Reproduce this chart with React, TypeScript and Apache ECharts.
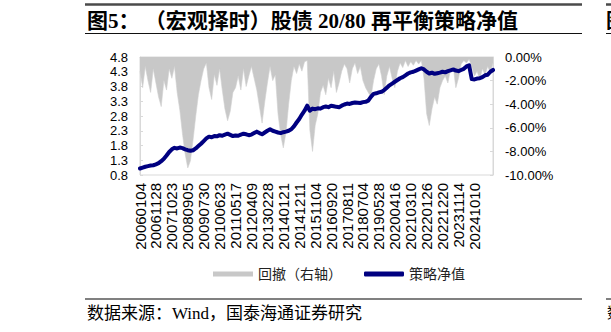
import React, { useEffect, useRef } from "react";
import * as echarts from "echarts";

const TITLE = "图5： （宏观择时）股债 20/80 再平衡策略净值";
const SOURCE = "数据来源：Wind，国泰海通证券研究";
const NAV_NAME = "策略净值";
const DD_NAME = "回撤（右轴）";

// trading dates (every 6th, up to 20241010, is an axis label)
const dates: string[] = [
  "20060104", "20060228", "20060424", "20060619", "20060811", "20061009",
  "20061128", "20070124", "20070320", "20070516", "20070710", "20070829",
  "20071023", "20071214", "20080205", "20080331", "20080522", "20080715",
  "20080905", "20081031", "20081224", "20090220", "20090415", "20090608",
  "20090730", "20090922", "20091116", "20100108", "20100310", "20100430",
  "20100623", "20100816", "20101014", "20101207", "20110128", "20110325",
  "20110517", "20110708", "20110831", "20111027", "20111219", "20120214",
  "20120409", "20120601", "20120725", "20120917", "20121115", "20130108",
  "20130228", "20130423", "20130617", "20130809", "20131008", "20131129",
  "20140121", "20140317", "20140512", "20140703", "20140825", "20141021",
  "20141211", "20150204", "20150331", "20150526", "20150716", "20150910",
  "20151104", "20151229", "20160224", "20160421", "20160615", "20160805",
  "20160920", "20161115", "20170106", "20170306", "20170428", "20170622",
  "20170811", "20170929", "20171124", "20180118", "20180316", "20180515",
  "20180704", "20180827", "20181024", "20181218", "20190219", "20190412",
  "20190528", "20190719", "20190911", "20191108", "20200102", "20200302",
  "20200416", "20200610", "20200803", "20200928", "20201124", "20210118",
  "20210310", "20210430", "20210622", "20210813", "20211011", "20211202",
  "20220126", "20220322", "20220516", "20220707", "20220830", "20221026",
  "20221220", "20230214", "20230411", "20230605", "20230727", "20230920",
  "20231114", "20240108", "20240305", "20240430", "20240624", "20240815",
  "20241010", "20241204", "20250124", "20250320", "20250516", "20250708",
  "20250829", "20251024",
];

// axis tick labels shown in the reference
const tickLabels: string[] = [
  "20060104", "20061128", "20071023", "20080905", "20090730", "20100623",
  "20110517", "20120409", "20130228", "20140121", "20141211", "20151104",
  "20160920", "20170811", "20180704", "20190528", "20200416", "20210310",
  "20220126", "20221220", "20231114", "20241010",
];

// strategy net value (left axis)
const nav: number[] = [
  1.02, 1.05, 1.08, 1.10, 1.12, 1.13,
  1.16, 1.20, 1.27, 1.35, 1.46, 1.58,
  1.67, 1.72, 1.70, 1.73, 1.71, 1.67,
  1.64, 1.62, 1.64, 1.70, 1.78, 1.86,
  1.95, 2.04, 2.10, 2.08, 2.12, 2.11,
  2.15, 2.13, 2.17, 2.20, 2.16, 2.12,
  2.14, 2.13, 2.17, 2.20, 2.18, 2.15,
  2.17, 2.22, 2.27, 2.22, 2.18, 2.24,
  2.30, 2.35, 2.30, 2.27, 2.24, 2.22,
  2.25, 2.27, 2.30, 2.35, 2.45, 2.58,
  2.70, 2.85, 2.98, 3.15, 2.98, 3.05,
  3.03, 3.06, 3.05, 3.10, 3.12, 3.10,
  3.15, 3.13, 3.11, 3.10, 3.15, 3.19,
  3.22, 3.21, 3.24, 3.26, 3.25, 3.24,
  3.27, 3.28, 3.32, 3.45, 3.55, 3.57,
  3.60, 3.62, 3.68, 3.76, 3.84, 3.90,
  3.96, 4.02, 4.08, 4.12, 4.18, 4.24,
  4.28, 4.30, 4.34, 4.38, 4.42, 4.38,
  4.30, 4.24, 4.27, 4.23, 4.25, 4.27,
  4.30, 4.28, 4.32, 4.35, 4.38, 4.34,
  4.32, 4.36, 4.40, 4.48, 4.52, 4.05,
  4.04, 4.07, 4.08, 4.12, 4.18, 4.20,
  4.30, 4.36,
];

// drawdown in % (right axis)
const drawdown: number[] = [
  -1.2, -2.6, -0.8, -2.0, -3.0, -1.0,
  -2.2, -3.4, -4.2, -2.0, -2.8, -1.0,
  -1.8, -0.8, -3.0, -4.5, -6.5, -8.2,
  -9.4, -8.8, -7.0, -5.0, -3.2, -2.0,
  -1.0, -0.5, -2.6, -3.6, -1.5, -2.4,
  -1.0, -2.8, -4.4, -5.4, -4.6, -3.0,
  -2.6, -1.6, -2.8, -1.0, -2.5, -1.6,
  -0.8, -1.8, -2.8, -4.2, -5.6, -3.8,
  -2.2, -0.8, -2.0, -1.5, -4.8, -6.6,
  -7.7, -6.4, -4.0, -2.0, -0.8, -1.4,
  -0.6, -1.2, -0.4, -0.3, -6.2, -8.0,
  -5.8, -4.8, -3.0, -2.4, -3.2, -1.8,
  -2.6, -1.2, -3.0, -2.2, -1.2, -0.6,
  -1.0, -2.2, -1.0, -0.5, -1.4, -0.8,
  -2.0, -2.6, -3.0, -3.4, -2.0, -1.0,
  -0.6, -1.6, -3.2, -1.6, -0.8, -1.8,
  -2.6, -1.2, -0.5, -0.9, -0.3, -0.8,
  -0.4, -0.7, -0.3, -0.6, -0.3, -1.8,
  -4.8, -5.8, -4.4, -3.4, -4.0, -2.6,
  -2.0, -1.6, -2.2, -1.0, -0.8, -2.6,
  -1.8, -0.6, -0.3, -0.5, -0.2, -0.8,
  -1.6, -1.2, -1.9, -1.0, -1.5, -0.8,
  -1.3, -0.5,
];

const SANS = '"Liberation Sans", Arial, "Noto Sans CJK SC", sans-serif';
const SERIF = '"Liberation Serif", "Times New Roman", "Noto Sans CJK SC", serif';

export default function App() {
  const ref = useRef<HTMLDivElement>(null);
  useEffect(() => {
    if (!ref.current) return;
    const chart = echarts.init(ref.current, undefined, { renderer: "svg" });
    chart.setOption({
      animation: false,
      backgroundColor: "#ffffff",
      grid: {
        left: 140,
        right: 118,
        top: 57,
        bottom: 157,
        show: true,
        borderColor: "#d9d9d9",
        borderWidth: 1,
        containLabel: false,
      },
      legend: {
        left: 208,
        top: 262,
        itemWidth: 40,
        itemHeight: 5,
        itemGap: 22,
        textStyle: { fontSize: 14, color: "#222", fontFamily: SERIF },
        data: [
          { name: DD_NAME, icon: "rect" },
          { name: NAV_NAME, icon: "roundRect" },
        ],
      },
      xAxis: {
        type: "category",
        data: dates,
        boundaryGap: false,
        axisLine: { show: true, lineStyle: { color: "#d9d9d9" } },
        axisTick: { show: false },
        axisLabel: {
          interval: (index: number, value: string) => tickLabels.indexOf(value) >= 0,
          rotate: 90,
          margin: 8,
          fontSize: 15,
          color: "#000",
          fontFamily: SANS,
        },
        splitLine: { show: false },
      },
      yAxis: [
        {
          type: "value",
          min: 0.8,
          max: 4.8,
          interval: 0.5,
          position: "left",
          axisLine: { show: true, lineStyle: { color: "#d9d9d9" } },
          axisTick: { show: true, inside: true, length: 3, lineStyle: { color: "#d9d9d9" } },
          splitLine: { show: false },
          axisLabel: {
            margin: 12,
            fontSize: 13,
            color: "#000",
            fontFamily: SANS,
            formatter: (v: number) => v.toFixed(1),
          },
        },
        {
          type: "value",
          min: -10,
          max: 0,
          interval: 2,
          position: "right",
          axisLine: { show: true, lineStyle: { color: "#d9d9d9" } },
          axisTick: { show: true, inside: true, length: 3, lineStyle: { color: "#d9d9d9" } },
          splitLine: { show: false },
          axisLabel: {
            margin: 12,
            fontSize: 13,
            color: "#000",
            fontFamily: SANS,
            formatter: (v: number) => v.toFixed(2) + "%",
          },
        },
      ],
      series: [
        {
          name: DD_NAME,
          type: "line",
          yAxisIndex: 1,
          data: drawdown,
          showSymbol: false,
          color: "#c8c8c8",
          lineStyle: { width: 0.6, color: "#d0d0d0" },
          areaStyle: { color: "#c8c8c8", opacity: 1 },
          z: 1,
        },
        {
          name: NAV_NAME,
          type: "line",
          yAxisIndex: 0,
          data: nav,
          showSymbol: false,
          color: "#000080",
          lineStyle: { width: 4, color: "#000080", cap: "round", join: "round" },
          z: 3,
        },
      ],
      graphic: [
        { type: "line", shape: { x1: 85, y1: 4.5, x2: 582, y2: 4.5 }, style: { stroke: "#4a4a4a", lineWidth: 2.5 } },
        { type: "line", shape: { x1: 606, y1: 4.5, x2: 611, y2: 4.5 }, style: { stroke: "#4a4a4a", lineWidth: 2.5 } },
        {
          type: "text",
          x: 87,
          y: 21,
          style: { text: TITLE, font: "bold 21px " + SERIF, fill: "#000", verticalAlign: "middle" },
        },
        {
          type: "text",
          x: 606,
          y: 21,
          style: { text: "图", font: "bold 20px " + SERIF, fill: "#000", verticalAlign: "middle" },
        },
        { type: "line", shape: { x1: 85, y1: 33.5, x2: 582, y2: 33.5 }, style: { stroke: "#111", lineWidth: 1 } },
        { type: "line", shape: { x1: 606, y1: 33.5, x2: 611, y2: 33.5 }, style: { stroke: "#111", lineWidth: 1 } },
        { type: "line", shape: { x1: 85, y1: 299, x2: 582, y2: 299 }, style: { stroke: "#808080", lineWidth: 2 } },
        { type: "line", shape: { x1: 606, y1: 299, x2: 611, y2: 299 }, style: { stroke: "#808080", lineWidth: 2 } },
        {
          type: "text",
          x: 87,
          y: 313,
          style: { text: SOURCE, font: "17px " + SERIF, fill: "#000", verticalAlign: "middle" },
        },
        {
          type: "text",
          x: 607,
          y: 313,
          style: { text: "数", font: "15px " + SERIF, fill: "#000", verticalAlign: "middle" },
        },
      ],
    });
    return () => chart.dispose();
  }, []);
  return (
    <div
      ref={ref}
      style={{ position: "fixed", left: 0, top: 0, width: 611, height: 332, background: "#fff" }}
    />
  );
}
